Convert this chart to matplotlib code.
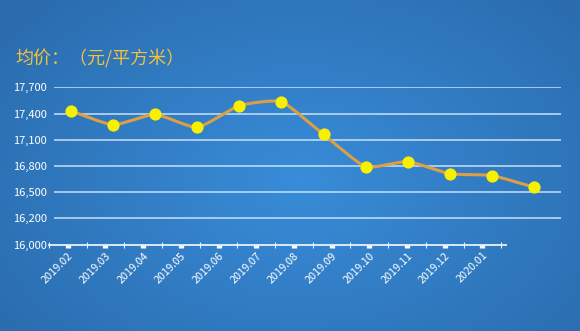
import numpy as np
import matplotlib
matplotlib.use("Agg")
import matplotlib.pyplot as plt
from matplotlib.path import Path
from matplotlib.patches import PathPatch

plt.rcParams['font.family'] = ['Noto Sans CJK SC', 'DejaVu Sans']

# ---- data ----
months = ["2019.02", "2019.03", "2019.04", "2019.05", "2019.06", "2019.07",
          "2019.08", "2019.09", "2019.10", "2019.11", "2019.12", "2020.01"]
prices = [17430, 17270, 17390, 17240, 17490, 17535,
          17160, 16790, 16850, 16710, 16690, 16555]
ytick_values = [15900, 16200, 16500, 16800, 17100, 17400, 17700]
ytick_labels = ["16,000", "16,200", "16,500", "16,800", "17,100", "17,400", "17,700"]
title = "均价：（元/平方米）"

W, H = 580, 331
fig = plt.figure(figsize=(W / 100, H / 100), dpi=100)

# ---- radial gradient background ----
bg = fig.add_axes([0, 0, 1, 1], zorder=-10)
yy, xx = np.mgrid[0:1:200j, 0:1:300j]
r = np.sqrt(((xx - 0.52) / 0.62) ** 2 + ((yy - 0.55) / 0.75) ** 2)
r = np.clip(r, 0, 1)
center = np.array([0.22, 0.55, 0.85])
edge = np.array([0.17, 0.43, 0.69])
img = center[None, None, :] * (1 - r[..., None]) + edge[None, None, :] * r[..., None]
bg.imshow(img, extent=[0, 1, 0, 1], aspect='auto', origin='upper')
bg.axis('off')

def fx(px):
    return px / W

def fy(py):
    return 1 - py / H

# ---- grid axes (y gridlines and labels) ----
g_left, g_right = 54, 561
y_top, y_bot = 87.3, 244.5
ax = fig.add_axes([fx(g_left), fy(y_bot), (g_right - g_left) / W, (y_bot - y_top) / H])
ax.set_facecolor('none')
ax.set_ylim(15900, 17700)
ax.set_xlim(0, 1)
for s in ax.spines.values():
    s.set_visible(False)
ax.set_yticks(ytick_values)
ax.set_yticklabels(ytick_labels)
ax.tick_params(axis='y', length=0, pad=5, labelsize=8, labelcolor='white')
ax.set_xticks([])
for v in ytick_values[1:]:
    ax.axhline(v, color='#d6e8fb', lw=1.2, alpha=0.85, zorder=1)

# ---- category axis ----
c_left = 48.9
c_right = 506
step = 37.7
x0 = 67.7
lo = (c_left - x0) / step
hi = (c_right - x0) / step
axc = fig.add_axes([fx(c_left), fy(y_bot), (c_right - c_left) / W, 0.01])
axc.set_facecolor('none')
axc.set_xlim(lo, hi)
axc.set_ylim(0, 1)
for k, s in axc.spines.items():
    s.set_visible(k == 'bottom')
axc.spines['bottom'].set_color('#e6f1fc')
axc.spines['bottom'].set_linewidth(1.3)
axc.set_yticks([])
idx = np.arange(len(months))
axc.set_xticks(idx)
axc.set_xticklabels(months, rotation=45, ha='right', va='top',
                    rotation_mode='anchor', fontsize=7.8, color='white')
axc.set_xticks(np.arange(-0.5, len(months)), minor=True)
axc.tick_params(axis='x', which='major', direction='out', length=2.2,
                width=3.8, color='white', pad=2)
axc.tick_params(axis='x', which='minor', direction='inout', length=4.5,
                width=0.8, color='#e6f1fc')

# ---- line axes ----
p_first, p_last = 71, 534
step2 = (p_last - p_first) / (len(months) - 1)
lo2 = (g_left - p_first) / step2
hi2 = (g_right - p_first) / step2
ax2 = fig.add_axes(ax.get_position())
ax2.set_facecolor('none')
ax2.set_xlim(lo2, hi2)
ax2.set_ylim(15900, 17700)
ax2.axis('off')

xs = idx.astype(float)
ys = np.array(prices, dtype=float)
P = np.column_stack([xs, ys])
n = len(P)
t = 0.5
verts = [P[0]]
codes = [Path.MOVETO]
for i in range(n - 1):
    p0 = P[i - 1] if i > 0 else P[i]
    p1 = P[i]
    p2 = P[i + 1]
    p3 = P[i + 2] if i + 2 < n else P[i + 1]
    c1 = p1 + (p2 - p0) / 6 * t
    c2 = p2 - (p3 - p1) / 6 * t
    verts += [c1, c2, p2]
    codes += [Path.CURVE4] * 3
path = Path(verts, codes)
ax2.add_patch(PathPatch(path, facecolor='none', edgecolor='#dc9f44', lw=2.2,
                        zorder=3, capstyle='round', joinstyle='round'))
ax2.plot(xs, ys, 'o', color='#f8f000', markersize=8.8, markeredgewidth=0, zorder=4)

# ---- title ----
fig.text(fx(15), fy(59), title, color='#f2c23c', fontsize=13, fontweight='medium',
         va='center', ha='left')

fig.savefig('out.png', dpi=100)
